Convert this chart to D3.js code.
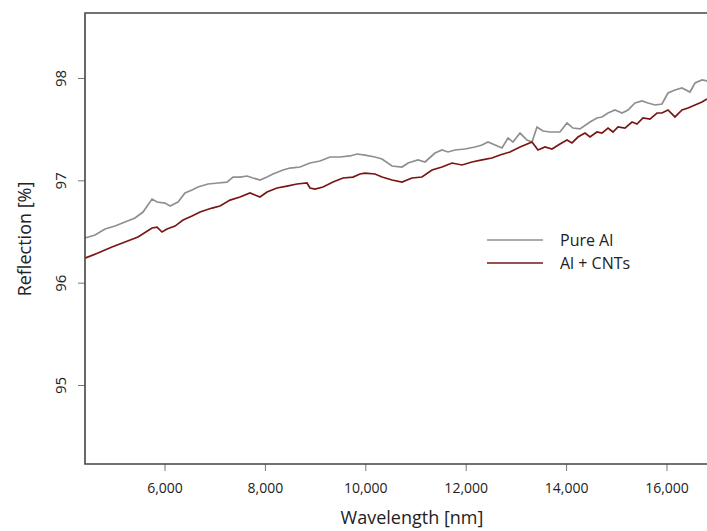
<!DOCTYPE html>
<html><head><meta charset="utf-8">
<script src="https://cdn.jsdelivr.net/npm/d3@7"></script>
<style>body{margin:0;background:#fff}svg{display:block;font-family:"Open Sans",sans-serif}</style>
</head><body><svg id="c" width="707" height="531"></svg>
<script>
const seriesNames = ["Pure Al", "Al + CNTs"];
const xTicks = [6000, 8000, 10000, 12000, 14000, 16000];
const yTicks = [95, 96, 97, 98];
const pureAlWl = [4416,4616,4815,5014,5213,5412,5572,5751,5851,6010,6110,6269,6408,6548,6667,6867,7066,7245,7365,7504,7644,7763,7902,8042,8161,8361,8500,8699,8898,9098,9297,9496,9695,9835,9994,10193,10333,10532,10731,10851,11050,11189,11388,11528,11648,11787,11986,12185,12325,12444,12584,12723,12843,12942,13082,13221,13321,13420,13540,13679,13878,14018,14137,14277,14476,14615,14715,14835,14974,15114,15233,15372,15512,15631,15771,15910,16030,16169,16309,16468,16568,16707,16807];
const pureAlVal = [96.436,96.465,96.524,96.553,96.592,96.632,96.690,96.817,96.788,96.778,96.749,96.788,96.876,96.905,96.935,96.964,96.974,96.983,97.032,97.032,97.042,97.023,97.003,97.032,97.062,97.101,97.120,97.130,97.169,97.189,97.228,97.228,97.238,97.257,97.247,97.228,97.208,97.140,97.130,97.169,97.199,97.179,97.267,97.296,97.277,97.296,97.306,97.326,97.345,97.374,97.345,97.316,97.414,97.374,97.462,97.394,97.374,97.521,97.482,97.472,97.472,97.560,97.511,97.502,97.570,97.609,97.619,97.658,97.687,97.658,97.687,97.756,97.775,97.756,97.736,97.746,97.853,97.883,97.902,97.863,97.951,97.981,97.971];
const cntWl = [4416,4675,4954,5213,5472,5751,5851,5950,6050,6209,6369,6548,6707,6946,7106,7305,7504,7703,7902,8042,8241,8440,8639,8839,8898,8998,9157,9357,9556,9755,9894,9994,10193,10333,10532,10731,10930,11129,11329,11528,11727,11926,12125,12325,12524,12683,12882,13082,13321,13440,13580,13719,13878,14018,14117,14237,14376,14476,14615,14715,14835,14934,15034,15173,15313,15412,15532,15671,15811,15910,16030,16169,16309,16428,16568,16707,16807];
const cntVal = [96.240,96.289,96.348,96.397,96.446,96.534,96.543,96.495,96.524,96.553,96.612,96.651,96.690,96.729,96.749,96.807,96.837,96.876,96.837,96.886,96.925,96.944,96.964,96.974,96.925,96.915,96.935,96.983,97.023,97.032,97.062,97.071,97.062,97.032,97.003,96.983,97.023,97.032,97.101,97.130,97.169,97.150,97.179,97.199,97.218,97.247,97.277,97.326,97.374,97.296,97.326,97.306,97.355,97.394,97.365,97.423,97.462,97.423,97.472,97.462,97.511,97.472,97.521,97.511,97.570,97.550,97.609,97.599,97.658,97.658,97.687,97.619,97.687,97.707,97.736,97.765,97.795];

const svg = d3.select("#c");
const L = 85, T = 13, R = 707, B = 464;
const x = d3.scaleLinear().domain([4416, 16807]).range([L, R]);
const y = d3.scaleLinear().domain([94.228, 98.635]).range([B, T]);

const series = [
  {name: seriesNames[0], color: "#8f8f8f", pts: pureAlWl.map((w,i)=>[w, pureAlVal[i]])},
  {name: seriesNames[1], color: "#7a1515", pts: cntWl.map((w,i)=>[w, cntVal[i]])}
];
const line = d3.line().x(d=>x(d[0])).y(d=>y(d[1]));
series.forEach(s => {
  svg.append("path").datum(s.pts).attr("d", line).attr("fill","none")
    .attr("stroke", s.color).attr("stroke-width", 1.7).attr("stroke-linejoin","miter");
});

// x axis
const xa = svg.append("g").attr("transform",`translate(0,${B})`)
  .call(d3.axisBottom(x).tickValues(xTicks).tickFormat(d3.format(",")).tickSize(7).tickPadding(12));
xa.select(".domain").remove();
xa.selectAll("line").attr("stroke","#777");
xa.selectAll("text").attr("font-size","14px").attr("fill","#222").attr("font-family","Open Sans");

// y axis
const ya = svg.append("g").attr("transform",`translate(${L},0)`)
  .call(d3.axisLeft(y).tickValues(yTicks).tickFormat(d3.format("d")).tickSize(7));
ya.select(".domain").remove();
ya.selectAll("line").attr("stroke","#777");
ya.selectAll("text").attr("font-size","15px").attr("fill","#222").attr("font-family","Open Sans")
  .attr("text-anchor","middle").attr("dy",null).attr("x",null)
  .attr("transform","translate(-25,0) rotate(-90)").attr("dominant-baseline","central");

// frame
svg.append("path").attr("d",`M${R},${T}H${L}V${B}H${R}`).attr("fill","none")
  .attr("stroke","#444").attr("stroke-width",1.6);

// titles
svg.append("text").attr("x",412).attr("y",524).attr("text-anchor","middle")
  .attr("font-size","18px").attr("fill","#222").text("Wavelength [nm]");
svg.append("text").attr("transform","translate(31,239) rotate(-90)").attr("text-anchor","middle")
  .attr("font-size","18px").attr("fill","#222").text("Reflection [%]");

// legend
series.forEach((s,i) => {
  const yy = 240 + i*23;
  svg.append("line").attr("x1",487).attr("x2",543).attr("y1",yy).attr("y2",yy)
    .attr("stroke",s.color).attr("stroke-width",1.6);
  svg.append("text").attr("x",560).attr("y",yy).attr("dominant-baseline","central")
    .attr("font-size","16px").attr("fill","#222").text(s.name);
});
</script></body></html>
